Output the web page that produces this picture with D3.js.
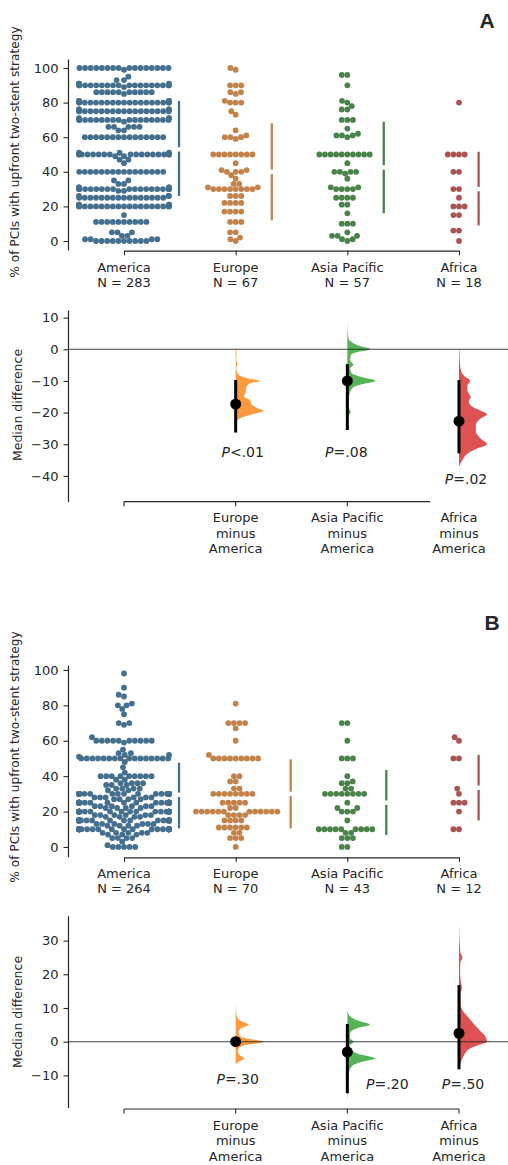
<!DOCTYPE html>
<html><head><meta charset="utf-8">
<script src="https://cdn.jsdelivr.net/npm/d3@7"></script>
<style>
body{margin:0;background:#fff}
svg{display:block}
text{font-family:"DejaVu Sans",sans-serif;fill:#262626}
</style>
</head><body>
<svg id="c" width="508" height="1165"></svg>
<script>
// ---------------- DATA ----------------
const categories = ["America", "Europe", "Asia Pacific", "Africa"];
const diffCats = ["Europe", "Asia Pacific", "Africa"];
const nA = [283, 67, 57, 18];
const nB = [264, 70, 43, 12];
const swarmTicks = [0, 20, 40, 60, 80, 100];
const diffTicksA = [-40, -30, -20, -10, 0, 10];
const diffTicksB = [-10, 0, 10, 20, 30];

// [value, count] pairs
const americaA = [[100,16],[99,1],[95,1],[93,2],[91,3],[90,18],[89,1],[86,10],[85,1],[81,4],[80,19],[76,4],[75,18],[71,3],[70,17],[69,1],[66,5],[64,2],[60,15],[51,3],[50,17],[49,2],[47,2],[45,1],[40,16],[35,2],[33,2],[31,4],[30,19],[29,2],[26,3],[25,16],[21,4],[20,19],[15,1],[11,10],[5,3],[3,2],[1,4],[0,10]];
const europeA = [[100,1],[99,1],[90,3],[86,2],[85,1],[81,1],[80,3],[75,1],[73,1],[64,1],[61,1],[60,3],[59,1],[50,8],[45,1],[41,2],[40,3],[38,1],[36,1],[33,2],[31,2],[30,8],[26,3],[22,4],[17,4],[11,3],[5,2],[2,1],[1,1],[0,1]];
const asiaA = [[96,2],[90,1],[81,1],[80,1],[78,1],[76,2],[70,3],[65,1],[62,1],[61,3],[60,1],[50,10],[45,1],[40,4],[39,1],[36,1],[31,2],[30,4],[25,4],[21,2],[16,1],[10,3],[5,1],[3,3],[1,2],[0,1]];
const africaA = [[80,1],[50,4],[40,2],[30,2],[25,1],[20,3],[15,2],[6,2],[0,1]];

const americaB = [[98,1],[90,1],[86,1],[85,1],[81,1],[80,2],[78,1],[75,1],[70,2],[69,1],[62,1],[60,10],[59,1],[55,1],[53,2],[52,2],[51,1],[50,16],[48,1],[45,1],[42,1],[40,9],[38,2],[36,4],[35,3],[33,4],[32,2],[30,26],[28,6],[27,4],[25,26],[23,6],[22,4],[20,28],[18,6],[17,4],[15,26],[13,6],[12,4],[10,26],[8,5],[7,3],[5,4],[3,1],[1,1],[0,5]];
const europeB = [[81,1],[70,4],[67,1],[60,1],[52,1],[50,9],[40,2],[37,2],[33,2],[30,8],[25,5],[22,2],[20,12],[18,4],[15,4],[11,6],[8,2],[5,3],[0,1]];
const asiaB = [[70,2],[60,1],[50,3],[40,1],[37,1],[36,2],[33,2],[30,8],[25,1],[22,2],[20,3],[15,1],[10,9],[8,2],[5,3],[0,2]];
const africaB = [[62,1],[60,1],[50,2],[33,1],[30,1],[25,3],[20,1],[10,2]];

// gapped lines (lower, centre, upper) per group
const lowA = [26, 12, 16, 9];
const midA = [53, 40, 42.5, 30];
const highA = [81, 68, 69, 51.6];
const lowB = [10.5, 10.5, 6.8, 15];
const midB = [29.5, 30, 25, 33.5];
const highB = [47.6, 49.5, 43.5, 52];

// median differences and 95% CI
const diffA = [-17.3, -10, -22.7];
const ciLowA = [-26.3, -25.5, -32.9];
const ciHighA = [-9.7, -4.7, -9.7];
const diffB = [0, -3.1, 2.5];
const ciLowB = [0, -15.3, -8.2];
const ciHighB = [0, 5.25, 16.8];

// bootstrap distributions: [median difference, relative density]
const bootEuropeA = [[0.5,0],[0,0.02],[-1,0.03],[-3,0.02],[-5,0.05],[-6,0.02],[-7.5,0.06],[-8.5,0.2],[-9.3,0.5],[-10,0.86],[-10.8,0.5],[-12,0.38],[-13.5,0.36],[-15,0.3],[-16,0.5],[-17.5,0.58],[-18.7,0.8],[-19.5,1.0],[-20.5,0.6],[-21.5,0.25],[-22.5,0.05],[-23.5,0]];
const bootAsiaA = [[10,0],[6,0.01],[4,0.03],[3,0.06],[2,0.2],[1,0.45],[0,0.82],[-1,0.3],[-2,0.12],[-3.5,0.1],[-5,0.22],[-6,0.1],[-7.5,0.15],[-8.8,0.5],[-10,1.0],[-11,0.55],[-12,0.22],[-14,0.08],[-16,0.05],[-18,0.04],[-20,0.12],[-21,0.03],[-22,0]];
const bootAfricaA = [[0,0.01],[-2,0.02],[-5,0.04],[-7,0.08],[-8.5,0.2],[-10,0.4],[-11.5,0.3],[-13,0.3],[-15,0.42],[-16.5,0.35],[-18,0.45],[-19.5,0.8],[-20.5,1.0],[-22,0.75],[-24,0.6],[-26,0.6],[-28,0.75],[-30,1.0],[-31.5,0.6],[-33,0.3],[-35,0.12],[-37,0]];
const bootEuropeB = [[12,0],[10,0.01],[8,0.03],[6.5,0.12],[5,0.46],[4,0.2],[3,0.1],[2,0.12],[1,0.35],[0,1.0],[-1,0.35],[-2,0.1],[-3,0.08],[-4,0.15],[-5,0.3],[-6,0.1],[-6.8,0]];
const bootAsiaB = [[9.5,0],[8,0.05],[6.5,0.3],[5,0.81],[4,0.35],[2.5,0.1],[1,0.1],[0,0.22],[-1,0.1],[-2,0.12],[-3.5,0.35],[-5,1.0],[-6,0.5],[-7,0.2],[-9,0.06],[-12,0.03],[-15,0.02],[-17.5,0]];
const bootAfricaB = [[35,0],[30,0.02],[26.5,0.05],[25,0.12],[23.5,0.05],[21,0.04],[18,0.06],[16,0.1],[14,0.05],[11,0.06],[9,0.15],[7,0.35],[5,0.55],[3,0.78],[1.5,0.95],[0,1.0],[-1,0.7],[-2,0.4],[-4,0.18],[-6,0.07],[-8.3,0]];

// p-value annotations
const pTextA = ["<.01", "=.08", "=.02"];
const pPosA = [-32.4, -32.4, -41];
const pTextB = ["=.30", "=.20", "=.50"];
const pPosB = [-11, -12.7, -12.7];

// ---------------- DRAWING ----------------
const svg = d3.select("#c");
const swarmColors = ["#446F8F", "#C3824A", "#498349", "#AB5252"];
const diffColors = ["#1f77b4", "#ff7f0e", "#2ca02c", "#d62728"];
const ink = "#262626";
const x = d3.scalePoint().domain(categories).range([124, 459]);
const spineX = 68;

function expand(pairs) {
  const out = [];
  pairs.forEach(([v, c]) => { for (let i = 0; i < c; i++) out.push(v); });
  return out;
}

function beeswarm(values, y, d, halfW) {
  const pts = values.slice().sort((a, b) => a - b).map(v => ({ v, y: y(v), x: 0 }));
  const placed = [];
  for (const p of pts) {
    const nb = placed.filter(q => Math.abs(q.y - p.y) < d);
    const cands = [0];
    nb.forEach(q => {
      const dx = Math.sqrt(d * d - (q.y - p.y) ** 2);
      cands.push(q.x + dx, q.x - dx);
    });
    cands.sort((a, b) => (Math.abs(a) - Math.abs(b)) || (a - b));
    for (const c of cands) {
      if (nb.every(q => (q.x - c) ** 2 + (q.y - p.y) ** 2 >= d * d - 1e-6)) { p.x = c; break; }
    }
    placed.push(p);
  }
  placed.forEach(p => { p.x = Math.max(-halfW, Math.min(halfW, p.x)); });
  return placed;
}

function styleAxis(g) {
  g.selectAll("path.domain").attr("stroke", ink).attr("stroke-width", 1.2);
  g.selectAll(".tick line").attr("stroke", ink).attr("stroke-width", 1.1);
  g.selectAll(".tick text").attr("font-size", 13).attr("fill", ink)
    .style("font-family", "'DejaVu Sans', sans-serif");
}

function drawSwarmPanel(cfg) {
  const y = d3.scaleLinear().domain(cfg.ydom).range([cfg.bottom, cfg.top]);
  const g = svg.append("g");
  const ya = g.append("g").attr("transform", `translate(${spineX},0)`)
    .call(d3.axisLeft(y).tickValues(swarmTicks).tickSize(4.5).tickPadding(5).tickSizeOuter(0));
  styleAxis(ya);

  const axisY = cfg.bottom + 0.7;
  const xa = g.append("g").attr("transform", `translate(0,${axisY})`)
    .call(d3.axisBottom(x).tickSize(4.5).tickSizeOuter(0).tickFormat(""));
  styleAxis(xa);
  categories.forEach((c, i) => {
    const t = g.append("text").attr("x", x(c)).attr("y", axisY + 21)
      .attr("text-anchor", "middle").attr("font-size", 13);
    t.append("tspan").attr("x", x(c)).text(c);
    t.append("tspan").attr("x", x(c)).attr("dy", 15).text("N = " + cfg.n[i]);
  });

  cfg.groups.forEach((grp, i) => {
    const cx = x(categories[i]);
    const pts = beeswarm(expand(grp), y, 5.6, 45);
    g.append("g").selectAll("circle").data(pts).join("circle")
      .attr("cx", p => cx + p.x).attr("cy", p => p.y).attr("r", 2.9)
      .attr("fill", swarmColors[i]);
    const lx = cx + Math.min(d3.max(pts, p => p.x) + 14, 55);
    const gap = 2.2;
    g.append("line").attr("x1", lx).attr("x2", lx)
      .attr("y1", y(cfg.high[i])).attr("y2", y(cfg.mid[i]) - gap)
      .attr("stroke", swarmColors[i]).attr("stroke-width", 2.3);
    g.append("line").attr("x1", lx).attr("x2", lx)
      .attr("y1", y(cfg.mid[i]) + gap).attr("y2", y(cfg.low[i]))
      .attr("stroke", swarmColors[i]).attr("stroke-width", 2.3);
  });

  g.append("text").attr("transform", `translate(${15},${cfg.labelY}) rotate(-90)`)
    .attr("text-anchor", "middle").attr("dominant-baseline", "central")
    .attr("font-size", 12.2).text("% of PCIs with upfront two-stent strategy");

  g.append("text").attr("x", cfg.letterX).attr("y", cfg.letterY).attr("text-anchor", "middle")
    .attr("font-size", 21).attr("font-weight", "bold")
    .style("font-family", "'Liberation Sans', Arial, sans-serif").text(cfg.letter);
}

function drawDiffPanel(cfg) {
  const y = d3.scaleLinear().domain(cfg.ydom).range([cfg.bottom, cfg.top]);
  const g = svg.append("g");
  const ya = g.append("g").attr("transform", `translate(${spineX},0)`)
    .call(d3.axisLeft(y).tickValues(cfg.ticks).tickSize(4.5).tickPadding(5).tickSizeOuter(0));
  styleAxis(ya);

  // bottom axis
  const axisY = cfg.axisY;
  const tickCats = categories.filter(c => cfg.tickCats.includes(c));
  g.append("line").attr("x1", x("America")).attr("x2", cfg.axisEnd)
    .attr("y1", axisY).attr("y2", axisY).attr("stroke", ink).attr("stroke-width", 1.2);
  g.selectAll("line.tk").data(tickCats).join("line").attr("class", "tk")
    .attr("x1", c => x(c)).attr("x2", c => x(c)).attr("y1", axisY).attr("y2", axisY + 4.5)
    .attr("stroke", ink).attr("stroke-width", 1.1);
  diffCats.forEach(c => {
    const t = g.append("text").attr("x", x(c)).attr("y", axisY + 20.5)
      .attr("text-anchor", "middle").attr("font-size", 13);
    t.append("tspan").attr("x", x(c)).text(c);
    t.append("tspan").attr("x", x(c)).attr("dy", 15.5).text("minus");
    t.append("tspan").attr("x", x(c)).attr("dy", 15.5).text("America");
  });

  // bootstrap half-violins
  cfg.boots.forEach((b, i) => {
    const cx = x(diffCats[i]);
    const area = d3.area().curve(d3.curveMonotoneY)
      .y(d => y(d[0])).x0(cx).x1(d => cx + d[1] * 28);
    g.append("path").datum(b).attr("d", area)
      .attr("fill", diffColors[i + 1]).attr("fill-opacity", 0.8);
  });

  // zero line
  g.append("line").attr("x1", spineX).attr("x2", 508).attr("y1", y(0)).attr("y2", y(0))
    .attr("stroke", "#222").attr("stroke-opacity", 0.85).attr("stroke-width", 1.1);

  // CI and median dots
  diffCats.forEach((c, i) => {
    const cx = x(c);
    g.append("line").attr("x1", cx).attr("x2", cx)
      .attr("y1", y(cfg.ciHigh[i])).attr("y2", y(cfg.ciLow[i]))
      .attr("stroke", "#000").attr("stroke-width", 3);
    g.append("circle").attr("cx", cx).attr("cy", y(cfg.diff[i])).attr("r", 5.5).attr("fill", "#000");
    const t = g.append("text").attr("x", cx + cfg.pdx[i]).attr("y", y(cfg.pPos[i]))
      .attr("text-anchor", "middle").attr("dominant-baseline", "central").attr("font-size", 14);
    t.append("tspan").attr("font-style", "italic").text("P");
    t.append("tspan").text(cfg.pText[i]);
  });

  g.append("text").attr("transform", `translate(${17},${cfg.labelY}) rotate(-90)`)
    .attr("text-anchor", "middle").attr("dominant-baseline", "central")
    .attr("font-size", 12.5).text("Median difference");
}

drawSwarmPanel({
  ydom: [-5.2, 105.2], top: 59, bottom: 250, n: nA,
  groups: [americaA, europeA, asiaA, africaA],
  low: lowA, mid: midA, high: highA, labelY: 152, letter: "A", letterX: 487, letterY: 28
});
drawDiffPanel({
  ydom: [-48.15, 12.4], top: 310, bottom: 501.7, axisY: 501.7, axisEnd: 430,
  tickCats: ["America", "Europe", "Asia Pacific"], ticks: diffTicksA,
  boots: [bootEuropeA, bootAsiaA, bootAfricaA],
  diff: diffA, ciLow: ciLowA, ciHigh: ciHighA,
  pText: pTextA, pPos: pPosA, pdx: [7, -1, 7], labelY: 405
});
drawSwarmPanel({
  ydom: [-5.5, 102.8], top: 665, bottom: 856.7, n: nB,
  groups: [americaB, europeB, asiaB, africaB],
  low: lowB, mid: midB, high: highB, labelY: 757, letter: "B", letterX: 492, letterY: 630
});
drawDiffPanel({
  ydom: [-19.6, 37.4], top: 915.7, bottom: 1107.7, axisY: 1109, axisEnd: 459,
  tickCats: categories, ticks: diffTicksB,
  boots: [bootEuropeB, bootAsiaB, bootAfricaB],
  diff: diffB, ciLow: ciLowB, ciHigh: ciHighB,
  pText: pTextB, pPos: pPosB, pdx: [2, 40, 4], labelY: 1012
});
</script>
</body></html>
